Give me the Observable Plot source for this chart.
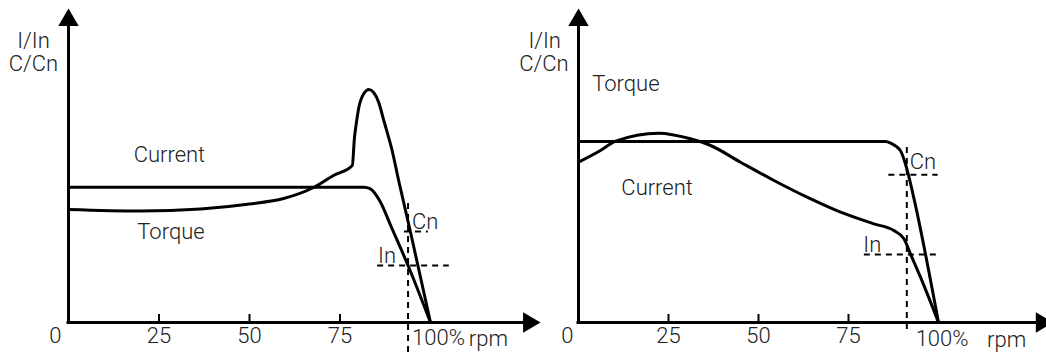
<!DOCTYPE html>
<html>
<head>
<meta charset="utf-8">
<script src="https://cdn.jsdelivr.net/npm/d3@7"></script>
<script src="https://cdn.jsdelivr.net/npm/@observablehq/plot@0.6"></script>
<style>
  html, body { margin: 0; padding: 0; background: #fff; }
  #wrap { position: relative; width: 1046px; height: 354px; overflow: hidden; }
  #wrap > svg { position: absolute; top: 0; }
</style>
</head>
<body>
<div id="wrap"></div>
<script>
// ---------- data (rpm in % of synchronous speed, ratio = I/In or C/Cn) ----------
const leftCurrentRpm   = [0, 19.9, 36.5, 50, 59.4, 67.7, 73.2, 78.4, 79.0, 79.5, 80.2, 81.6, 83.0, 84.3, 85.7, 87.1, 89.4, 91.2, 94.5, 100];
const leftCurrentRatio = [1.13, 1.115, 1.135, 1.185, 1.24, 1.35, 1.47, 1.57, 1.85, 1.99, 2.15, 2.29, 2.33, 2.30, 2.20, 2.02, 1.72, 1.42, 0.90, 0];
const leftTorqueRpm    = [0, 81.6, 83.4, 86.2, 89.0, 93.8, 100];
const leftTorqueRatio  = [1.353, 1.353, 1.337, 1.203, 0.97, 0.57, 0];

const rightCurrentRpm   = [0, 6.1, 10.3, 22.3, 31.1, 36.7, 45.0, 54.3, 63.5, 72.8, 82.0, 87.6, 90.4, 92.2, 95.0, 100];
const rightCurrentRatio = [1.603, 1.72, 1.813, 1.893, 1.837, 1.77, 1.603, 1.42, 1.253, 1.103, 0.987, 0.92, 0.837, 0.687, 0.453, 0];
const rightTorqueRpm    = [0, 85.3, 86.7, 89.4, 90.8, 91.8, 93.1, 100];
const rightTorqueRatio  = [1.81, 1.81, 1.793, 1.72, 1.587, 1.453, 1.253, 0];

// rated operating point guides
const leftRatedRpm = 93.8,  leftRatedSpan = [1.19, -0.35];
const leftCnLevel  = 0.91,  leftCnSpan = [92.8, 99.4];
const leftInLevel  = 0.57,  leftInSpan = [85.4, 105.2];
const rightRatedRpm = 91.2, rightRatedSpan = [1.75, -0.08];
const rightCnLevel  = 1.477, rightCnSpan = [86.2, 99.9];
const rightInLevel  = 0.68,  rightInSpan = [79.4, 99.6];

// axis ticks
const tickValues = [25, 50, 75];
const tickLabels = ["25", "50", "75"];

// annotation labels
const leftStartLabels = [
  {text: "Current", x: 18.0, y: 1.68},
  {text: "Torque",  x: 19.0, y: 0.904},
  {text: "Cn",      x: 94.9, y: 1.004},
  {text: "In",      x: 85.5, y: 0.67},
  {text: "100%",    x: 94.9, y: -0.153},
  {text: "rpm",     x: 110.6, y: -0.165}
];
const leftMiddleLabels = [
  {text: "I/In", x: -9.67, y: 2.82},
  {text: "C/Cn", x: -9.67, y: 2.587},
  {text: "0",    x: -3.6,  y: -0.133}
];
const rightStartLabels = [
  {text: "Torque",  x: 3.8,  y: 2.387},
  {text: "Current", x: 11.9, y: 1.347},
  {text: "Cn",      x: 92.0, y: 1.604},
  {text: "In",      x: 79.1, y: 0.78},
  {text: "rpm",     x: 113.5, y: -0.17}
];
const rightMiddleLabels = [
  {text: "I/In", x: -9.4, y: 2.82},
  {text: "C/Cn", x: -9.6, y: 2.587},
  {text: "0",    x: -3.1, y: -0.136},
  {text: "100%", x: 101.0, y: -0.16}
];

// ---------- drawing ----------
const FONT = "Roboto, 'Liberation Sans', Arial, sans-serif";
const FS = 22;

// filled arrowheads whose tip sits at the anchor point
const arrowUp = {draw(ctx) { ctx.moveTo(0, 0); ctx.lineTo(10.2, 17.5); ctx.lineTo(-10.2, 17.5); ctx.closePath(); }};
const arrowRight = {draw(ctx) { ctx.moveTo(0, 0); ctx.lineTo(-17.5, -10.2); ctx.lineTo(-17.5, 10.2); ctx.closePath(); }};

function panel({width, marginLeft, marginRight, currentRpm, currentRatio, torqueRpm, torqueRatio,
                ratedRpm, ratedSpan, cnLevel, cnSpan, inLevel, inSpan, startLabels, middleLabels,
                xTip, xLineEnd}) {
  const current = currentRpm.map((r, i) => ({rpm: r, ratio: currentRatio[i]}));
  const torque = torqueRpm.map((r, i) => ({rpm: r, ratio: torqueRatio[i]}));
  const yTip = 3.14, yLineEnd = 3.02;
  const dash = {stroke: "black", strokeWidth: 2, strokeDasharray: "6,5"};
  return Plot.plot({
    width, height: 354,
    marginLeft, marginRight, marginTop: 8, marginBottom: 32,
    x: {domain: [0, 100], axis: null},
    y: {domain: [0, 3.14], axis: null},
    style: {overflow: "visible", background: "transparent", fontFamily: FONT, fontSize: FS + "px"},
    marks: [
      // guides
      Plot.ruleX([ratedRpm], {x: d => d, y1: ratedSpan[0], y2: ratedSpan[1], ...dash}),
      Plot.ruleY([cnLevel], {y: d => d, x1: cnSpan[0], x2: cnSpan[1], ...dash}),
      Plot.ruleY([inLevel], {y: d => d, x1: inSpan[0], x2: inSpan[1], ...dash}),
      // axes
      Plot.ruleY([0], {y: d => d, x1: 0, x2: xLineEnd, stroke: "black", strokeWidth: 3, strokeLinecap: "square"}),
      Plot.ruleX([0], {x: d => d, y1: 0, y2: yLineEnd, stroke: "black", strokeWidth: 3, strokeLinecap: "square"}),
      Plot.dot([{x: 0, y: yTip}], {x: "x", y: "y", symbol: arrowUp, fill: "black", stroke: "none"}),
      Plot.dot([{x: xTip, y: 0}], {x: "x", y: "y", symbol: arrowRight, fill: "black", stroke: "none"}),
      Plot.ruleX(tickValues, {x: d => d, y1: 0, y2: 0.08, stroke: "black", strokeWidth: 2}),
      Plot.text(tickValues, {x: d => d, y: -0.135, text: (d, i) => tickLabels[i], fontSize: FS, fontWeight: 300, fill: "#222"}),
      // curves
      Plot.line(torque, {x: "rpm", y: "ratio", curve: "monotone-x", stroke: "black", strokeWidth: 3}),
      Plot.line(current, {x: "rpm", y: "ratio", curve: "monotone-x", stroke: "black", strokeWidth: 3}),
      // labels
      Plot.text(startLabels, {x: "x", y: "y", text: "text", textAnchor: "start", fontSize: FS, fontWeight: 300, fill: "#222"}),
      Plot.text(middleLabels, {x: "x", y: "y", text: "text", textAnchor: "middle", fontSize: FS, fontWeight: 300, fill: "#222"})
    ]
  });
}

const wrap = document.getElementById("wrap");

const left = panel({
  width: 523, marginLeft: 68, marginRight: 93,
  currentRpm: leftCurrentRpm, currentRatio: leftCurrentRatio,
  torqueRpm: leftTorqueRpm, torqueRatio: leftTorqueRatio,
  ratedRpm: leftRatedRpm, ratedSpan: leftRatedSpan,
  cnLevel: leftCnLevel, cnSpan: leftCnSpan, inLevel: leftInLevel, inSpan: leftInSpan,
  startLabels: leftStartLabels, middleLabels: leftMiddleLabels,
  xTip: 130.4, xLineEnd: 127.5
});
left.style.left = "0px";
wrap.appendChild(left);

const right = panel({
  width: 523, marginLeft: 55, marginRight: 108,
  currentRpm: rightCurrentRpm, currentRatio: rightCurrentRatio,
  torqueRpm: rightTorqueRpm, torqueRatio: rightTorqueRatio,
  ratedRpm: rightRatedRpm, ratedSpan: rightRatedSpan,
  cnLevel: rightCnLevel, cnSpan: rightCnSpan, inLevel: rightInLevel, inSpan: rightInSpan,
  startLabels: rightStartLabels, middleLabels: rightMiddleLabels,
  xTip: 131.9, xLineEnd: 128.8
});
right.style.left = "523px";
wrap.appendChild(right);
</script>
</body>
</html>
